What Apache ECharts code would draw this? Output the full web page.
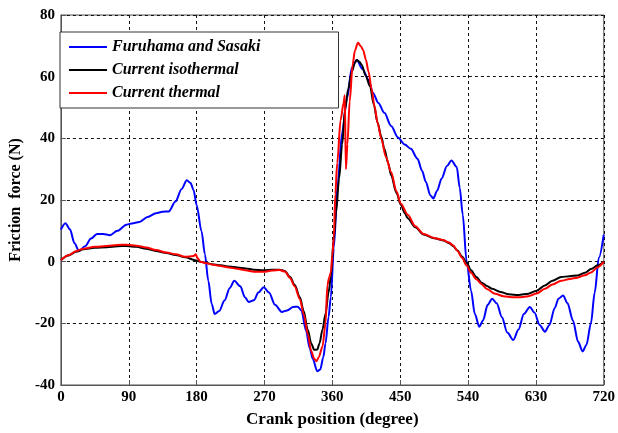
<!DOCTYPE html>
<html>
<head>
<meta charset="utf-8">
<script src="https://cdn.jsdelivr.net/npm/echarts@6/dist/echarts.min.js"></script>
<style>
  html, body { margin: 0; padding: 0; background: #fff; }
  #chart { width: 618px; height: 433px; }
</style>
</head>
<body>
<div id="chart"></div>
<script>
// Crank angle ticks and friction force ticks
const xTicks = [0, 90, 180, 270, 360, 450, 540, 630, 720];
const yTicks = [-40, -20, 0, 20, 40, 60, 80];

const seriesNames = ['Furuhama and Sasaki', 'Current isothermal', 'Current thermal'];

// Measured friction force (Furuhama and Sasaki): [crank angle, force N]
const furuhamaSasaki = [
  [0, 10.4], [6, 12.5], [12, 10.5], [18, 6], [24, 3.5], [32, 5], [40, 7.5], [48, 9],
  [56, 9], [65, 8.6], [75, 10], [87, 12], [96, 12.5], [104, 12.9], [115, 14.5],
  [126, 15.7], [135, 16.2], [143, 16.3], [152, 19.5], [160, 23.5], [167, 26.4],
  [172, 25.5], [176, 23.2], [180, 18.4], [186.5, 9.9], [191, 2.4], [195.5, -6.2],
  [200, -13.7], [204, -17], [210, -16], [217, -12.6], [224, -8.5], [230, -6.2],
  [238, -8], [244, -11.5], [249, -13.1], [256, -12.5], [262, -10], [269, -8.3],
  [276, -10], [284, -14], [293, -16.3], [300, -15.8], [308, -14.7], [314, -14.6],
  [319, -15.8], [325, -22.2], [330, -28], [334, -31.5], [340, -35.5], [344, -35],
  [348, -31], [351, -26.5], [355, -18], [358, -11.5], [362, 4.5], [367, 25],
  [373, 41.9], [379.5, 53], [386, 63], [392.5, 65.4], [400, 62.5], [408, 59],
  [414, 54.7], [421, 51.5], [429, 48.3], [438, 44], [447, 40.3], [456, 38],
  [464, 36.6], [473, 33.4], [479, 29.5], [484, 25.9], [490, 21.5], [494, 20.5],
  [499, 23], [505, 27], [512, 31], [518, 32.8], [525, 30.7], [529, 24], [533, 15.2],
  [538, 0.3], [544, -9.4], [549, -17], [555, -21.1], [560, -19], [566, -14],
  [572, -12], [578, -13.5], [585, -18], [592, -23], [600, -25.4], [607, -22],
  [614, -17], [622, -14.7], [628, -16.5], [635, -20.5], [642, -22.7], [648, -20.5],
  [655, -15], [660, -12], [666, -11], [672, -13.5], [679, -19], [686, -26],
  [692, -29.1], [697, -27], [703, -20], [708, -10], [713.5, 1.3], [720, 8.8]
];

// Isothermal model prediction
const currentIsothermal = [
  [0, 0.5], [10, 2], [20, 3.2], [30, 4], [45, 4.5], [61, 4.7], [75, 5], [87, 5.1],
  [100, 4.8], [113, 4.2], [126, 3.5], [140, 2.8], [152, 2.2], [165, 1.4], [178, 0.5],
  [185, 0], [191, -0.3], [200, -0.8], [212, -1.2], [223, -1.6], [234, -1.9],
  [245, -2.2], [256, -2.6], [269, -2.8], [280, -2.6], [290, -2.6], [297, -3],
  [304, -5], [310, -7.5], [317, -11.5], [322, -16], [327.5, -22.2], [332, -26.5],
  [336, -28.6], [340, -28.5], [343, -26.5], [347, -22], [351, -16.9], [355, -10],
  [358, -5], [362, 7.7], [365, 16], [369, 27], [373, 38], [377, 49.4], [381, 56],
  [386, 61.7], [390, 64.6], [392.5, 65.4], [396, 64.8], [399, 63.8], [404, 60.5],
  [410, 56.9], [415, 51], [420, 45.1], [425, 40.5], [429, 36.6], [434, 32],
  [438, 28], [445, 22.3], [451, 18.4], [456, 15.8], [460, 14.1], [470, 11.2],
  [481, 8.8], [495, 7.6], [507, 6.9], [515, 6], [520, 5.1], [526, 3.6], [532, 1.7],
  [538, -0.3], [544, -2.8], [551, -5], [558, -6.8], [565, -7.9], [572, -8.8],
  [583, -9.8], [594, -10.6], [607, -10.8], [620, -10.4], [631, -9.4], [642, -7.7],
  [652, -6.2], [663.5, -5], [675, -4.7], [685, -4.5], [695, -3.6], [703, -2.4],
  [712, -1.2], [720, 0]
];

// Thermal model prediction
const currentThermal = [
  [0, 0.5], [10, 2.1], [20, 3.4], [30, 4.2], [45, 4.8], [61, 5.1], [75, 5.4], [87, 5.5],
  [100, 5.2], [113, 4.6], [126, 3.8], [140, 3], [152, 2.4], [165, 1.6], [176, 1.8],
  [179, 2.4], [181, 1.2], [185, 0], [191, -0.4], [200, -0.9], [212, -1.4], [223, -1.9],
  [234, -2.3], [245, -2.8], [256, -3.3], [269, -3.3], [280, -2.9], [290, -2.7],
  [297, -3.2], [304, -5.3], [310, -8], [317, -12.2], [322, -17], [327.5, -23.5],
  [332, -29], [336, -31.5], [339, -32.3], [342, -31], [347, -27.5], [351, -20],
  [353.5, -7.5], [356, -5], [358, -3.5], [360, 2], [362, 8], [364, 22], [366.5, 32],
  [371, 46], [375, 51.5], [376.5, 54], [378, 30], [380, 38], [383, 52], [387, 64],
  [390, 68.5], [394, 71], [398, 69.8], [401, 68.6], [404.5, 65.5], [408, 61.7],
  [412, 56], [416, 50.4], [420, 45], [425, 39.8], [431, 34], [438, 29.1], [445, 22.8],
  [451, 18.8], [460, 15.2], [470, 11.5], [481, 9], [495, 7.7], [507, 7], [515, 6.2],
  [520, 5.3], [526, 3.5], [532, 1.3], [538, -1.2], [544, -3.6], [551, -5.7],
  [558, -7.3], [565, -8.9], [576, -10.4], [587, -11.2], [598, -11.5], [610, -11.5],
  [620, -11.2], [631, -10.3], [642, -8.8], [652, -7.4], [663.5, -6.2], [675, -5.6],
  [685, -5.2], [695, -4.4], [703, -3.5], [712, -1.8], [720, 0]
];

const serif = '"Liberation Serif", "Times New Roman", serif';
const chart = echarts.init(document.getElementById('chart'), null, { renderer: 'canvas' });

const gridLine = { show: true, lineStyle: { color: '#111', width: 1, type: [3, 3] } };

function lineSeries(name, data, color) {
  return {
    name, type: 'line', data,
    symbol: 'none', smooth: 0.3, smoothMonotone: 'x',
    lineStyle: { color, width: 2 },
    itemStyle: { color },
    animation: false
  };
}

chart.setOption({
  backgroundColor: '#fff',
  animation: false,
  grid: {
    left: 53, top: 15, width: 554, height: 374,
    show: true, borderColor: '#555', borderWidth: 1, backgroundColor: '#fff'
  },
  legend: {
    data: seriesNames,
    orient: 'vertical',
    left: 60, top: 32,
    padding: [7, 78, 7, 9],
    itemGap: 7,
    itemWidth: 38, itemHeight: 2,
    icon: 'rect',
    backgroundColor: '#fff',
    borderColor: '#333', borderWidth: 1,
    textStyle: {
      fontFamily: serif, fontStyle: 'italic', fontWeight: 'bold',
      fontSize: 16, color: '#000', lineHeight: 16
    }
  },
  xAxis: {
    type: 'value',
    min: xTicks[0], max: xTicks[xTicks.length - 1], interval: 90,
    name: 'Crank position (degree)',
    nameLocation: 'middle', nameGap: 26,
    nameTextStyle: { fontFamily: serif, fontWeight: 'bold', fontSize: 17, color: '#000' },
    axisLine: { show: true, onZero: false, lineStyle: { color: '#555' } },
    axisTick: { show: true, inside: true, length: 5, lineStyle: { color: '#555' } },
    axisLabel: {
      fontFamily: serif, fontWeight: 'bold', fontSize: 15, color: '#000', margin: 5,
      formatter: v => xTicks.includes(v) ? String(v) : ''
    },
    splitLine: gridLine
  },
  yAxis: {
    type: 'value',
    min: yTicks[0], max: yTicks[yTicks.length - 1], interval: 20,
    name: 'Friction  force (N)',
    nameLocation: 'middle', nameGap: 28,
    nameTextStyle: { fontFamily: serif, fontWeight: 'bold', fontSize: 16, color: '#000' },
    axisLine: { show: true, onZero: false, lineStyle: { color: '#555' } },
    axisTick: { show: true, inside: true, length: 5, lineStyle: { color: '#555' } },
    axisLabel: {
      fontFamily: serif, fontWeight: 'bold', fontSize: 15, color: '#000', margin: 6,
      formatter: v => yTicks.includes(v) ? String(v) : ''
    },
    splitLine: gridLine
  },
  series: [
    lineSeries(seriesNames[0], furuhamaSasaki, '#0000ff'),
    lineSeries(seriesNames[1], currentIsothermal, '#000000'),
    lineSeries(seriesNames[2], currentThermal, '#ff0000')
  ]
});
</script>
</body>
</html>
